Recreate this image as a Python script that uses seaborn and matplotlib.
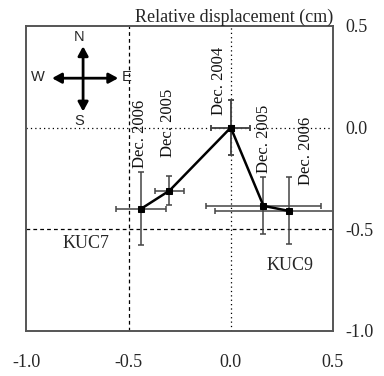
import matplotlib
matplotlib.use("Agg")
import matplotlib.pyplot as plt
import seaborn as sns
import pandas as pd

# ---- data ----
stations = ["KUC7", "KUC9"]
epochs = ["Dec. 2004", "Dec. 2005", "Dec. 2006"]
kuc7_x = [0.0, -0.30, -0.44]
kuc7_y = [0.0, -0.31, -0.40]
kuc7_xerr = [0.095, 0.072, 0.124]
kuc7_yerr = [0.135, 0.07, 0.18]
kuc9_x = [0.0, 0.16, 0.285]
kuc9_y = [0.0, -0.385, -0.41]
kuc9_xerr = [0.095, 0.28, 0.36]
kuc9_yerr = [0.135, 0.14, 0.165]
ticks = [-1.0, -0.5, 0.0, 0.5]
tick_labels = ["-1.0", "-0.5", "0.0", "0.5"]
title = "Relative displacement (cm)"

sns.set_style("white")
plt.rcParams["font.family"] = ["Liberation Serif", "DejaVu Serif"]
plt.rcParams["axes.unicode_minus"] = False

df = pd.concat([
    pd.DataFrame({"station": "KUC7", "epoch": epochs, "x": kuc7_x, "y": kuc7_y}),
    pd.DataFrame({"station": "KUC9", "epoch": epochs, "x": kuc9_x, "y": kuc9_y}),
], ignore_index=True)

fig = plt.figure(figsize=(3.84, 3.76), dpi=100)
ax = fig.add_axes([0.069, 0.12, 0.798, 0.811])

# reference lines
ax.axvline(-0.5, color="black", lw=0.9, ls=(0, (3, 2.5)), zorder=1)
ax.axvline(0.0, color="black", lw=0.9, ls=(0, (1, 2.5)), zorder=1)
ax.axhline(0.0, color="black", lw=0.9, ls=(0, (1, 2.5)), zorder=1)
ax.axhline(-0.5, color="black", lw=0.9, ls=(0, (3, 2.5)), zorder=1)

# error bars
for xs, ys, xe, ye in [(kuc7_x, kuc7_y, kuc7_xerr, kuc7_yerr),
                       (kuc9_x, kuc9_y, kuc9_xerr, kuc9_yerr)]:
    ax.errorbar(xs, ys, xerr=xe, yerr=ye, fmt="none", ecolor="#444444",
                elinewidth=1.1, capsize=2.3, capthick=1.1, zorder=2)

sns.lineplot(data=df, x="x", y="y", units="station", estimator=None, sort=False,
             color="black", lw=1.8, marker="s", markersize=4.8,
             markeredgecolor="black", ax=ax, zorder=3, legend=False)

# epoch labels (rotated)
lab_offsets = {
    ("KUC7", 0): (-0.056, 0.064),
    ("KUC7", 1): (-0.005, 0.166),
    ("KUC7", 2): (-0.003, 0.202),
    ("KUC9", 1): (0.004, 0.162),
    ("KUC9", 2): (0.085, 0.128),
}
for (st, i), (dx, dy) in lab_offsets.items():
    xs, ys = (kuc7_x, kuc7_y) if st == "KUC7" else (kuc9_x, kuc9_y)
    ax.text(xs[i] + dx, ys[i] + dy, epochs[i], rotation=90, ha="center",
            va="bottom", fontsize=12, color="#111111", zorder=4)

# station labels
ax.text(-0.71, -0.57, stations[0], ha="center", va="center", fontsize=13)
ax.text(0.29, -0.68, stations[1], ha="center", va="center", fontsize=13)

# compass
cx, cy = -0.723, 0.243
akw = dict(arrowstyle="-|>,head_length=0.55,head_width=0.3", color="black", lw=2.0,
           shrinkA=0, shrinkB=0)
ax.annotate("", xy=(-0.875, cy), xytext=(cx, cy), arrowprops=akw)
ax.annotate("", xy=(-0.551, cy), xytext=(cx, cy), arrowprops=akw)
ax.annotate("", xy=(cx, 0.40), xytext=(cx, cy), arrowprops=akw)
ax.annotate("", xy=(cx, 0.079), xytext=(cx, cy), arrowprops=akw)
ckw = dict(ha="center", va="center", fontsize=10.5, family=["Liberation Sans", "DejaVu Sans"])
ax.text(cx - 0.02, 0.445, "N", **ckw)
ax.text(-0.945, cy + 0.005, "W", **ckw)
ax.text(-0.51, cy + 0.005, "E", **ckw)
ax.text(cx - 0.02, 0.03, "S", **ckw)

ax.set_xlim(-1.0, 0.5)
ax.set_ylim(-1.0, 0.5)
ax.set_xticks(ticks)
ax.set_xticklabels(tick_labels, fontsize=13)
ax.set_yticks(ticks)
ax.set_yticklabels(tick_labels, fontsize=13)
ax.yaxis.tick_right()
ax.tick_params(axis="x", length=0, pad=17)
ax.tick_params(axis="y", length=0, pad=9)
ax.set_xlabel("")
ax.set_ylabel("")
for sp in ax.spines.values():
    sp.set_color("#555555")
    sp.set_linewidth(1.4)

ax.text(0.5, 0.52, title, ha="right", va="baseline", fontsize=13, zorder=5)

fig.savefig("out.png", dpi=100)
